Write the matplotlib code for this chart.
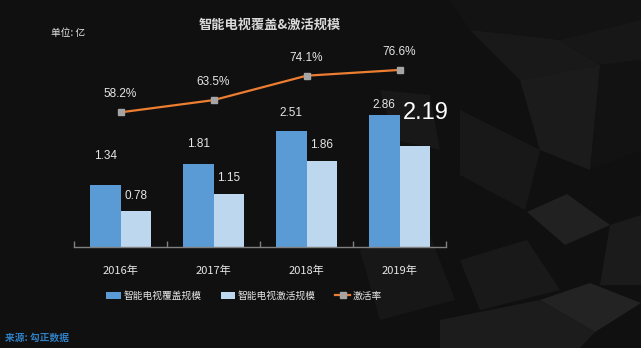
import numpy as np
import matplotlib
matplotlib.use("Agg")
import matplotlib.pyplot as plt
from matplotlib.patches import Polygon, Patch
from matplotlib.lines import Line2D

# --- data ---
years = ["2016年", "2017年", "2018年", "2019年"]
coverage = [1.34, 1.81, 2.51, 2.86]      # 智能电视覆盖规模 (亿)
active = [0.78, 1.15, 1.86, 2.19]        # 智能电视激活规模 (亿)
active_rate = [58.2, 63.5, 74.1, 76.6]   # 激活率 (%)

# --- style ---
BG = "#101010"
C_COVER = "#5b9bd5"
C_ACTIVE = "#bdd7ee"
C_LINE = "#ed7d31"
C_MARK = "#a5a5a5"
TXT = "#e6e6e6"
CJK = ["Noto Sans CJK SC", "DejaVu Sans"]
NUM = ["Liberation Sans Narrow", "Liberation Sans", "DejaVu Sans"]

plt.rcParams["font.family"] = CJK

W, H = 641, 348
fig = plt.figure(figsize=(W / 100, H / 100), dpi=100)
fig.patch.set_facecolor(BG)

# faint cube facets in the background (pixel coords, y from top)
facets = [
    ([(450, 0), (641, 0), (641, 20), (560, 40), (470, 30)], "#131313"),
    ([(470, 30), (560, 40), (600, 65), (520, 80)], "#191919"),
    ([(560, 40), (641, 20), (641, 60), (600, 65)], "#171717"),
    ([(600, 65), (641, 60), (641, 150), (590, 170)], "#121212"),
    ([(520, 80), (600, 65), (590, 170), (540, 150)], "#1b1b1b"),
    ([(460, 110), (540, 150), (525, 210), (460, 175)], "#181818"),
    ([(527, 212), (567, 194), (610, 225), (565, 245)], "#212121"),
    ([(610, 225), (641, 215), (641, 285), (600, 285)], "#1b1b1b"),
    ([(540, 300), (590, 283), (641, 303), (595, 332)], "#232323"),
    ([(460, 260), (527, 240), (560, 290), (480, 310)], "#191919"),
    ([(440, 320), (540, 300), (595, 332), (580, 348), (440, 348)], "#1c1c1c"),
    ([(360, 250), (430, 235), (455, 300), (380, 320)], "#171717"),
    ([(380, 90), (430, 95), (440, 150), (395, 140)], "#181818"),
]
for pts, col in facets:
    fig.patches.append(Polygon([(x, H - y) for x, y in pts], closed=True,
                               transform=None, facecolor=col, edgecolor="none",
                               zorder=-5))

# plot area: 74..446 px wide, baseline at 246.5 px
ax = fig.add_axes([74 / W, (H - 246.5) / H, 372 / W, 230.5 / H])
ax.set_facecolor("none")
ax2 = ax.twinx()

x = np.arange(len(years))
bw = 0.33
ax.bar(x - bw / 2, coverage, bw, color=C_COVER, zorder=2)
ax.bar(x + bw / 2, active, bw, color=C_ACTIVE, zorder=2)
ax.set_xlim(-0.5, len(years) - 0.5)
ax.set_ylim(0, 5.03)

# bar value labels (offsets in pixels above each bar top)
cov_off = [29, 20, 18, 10]
act_off = [15, 16, 16, 33]
for i, v in enumerate(coverage):
    ax.annotate(f"{v:.2f}", (x[i] - bw / 2, v), xytext=(0, cov_off[i]),
                textcoords="offset pixels", ha="center", va="center",
                color=TXT, fontsize=8.5, family=NUM)
for i, v in enumerate(active):
    big = i == len(active) - 1
    ax.annotate(f"{v:.2f}", (x[i] + bw / 2, v),
                xytext=(11 if big else 0, act_off[i]),
                textcoords="offset pixels", ha="center", va="center",
                color="white" if big else TXT,
                fontsize=17 if big else 8.5, family=NUM)

# activation rate line on the secondary axis
ax2.set_ylim(0, 100)
ax2.plot(x, active_rate, color=C_LINE, lw=1.6, marker="s", ms=4,
         mfc=C_MARK, mec=C_MARK, zorder=3)
for i, v in enumerate(active_rate):
    ax2.annotate(f"{v:.1f}%", (x[i], v), xytext=(0, 18),
                 textcoords="offset pixels", ha="center", va="center",
                 color=TXT, fontsize=8.5, family=NUM)

for a in (ax, ax2):
    for s in ("top", "right", "left"):
        a.spines[s].set_visible(False)
    a.set_yticks([])
ax2.spines["bottom"].set_visible(False)
ax.spines["bottom"].set_color("#808080")
ax.spines["bottom"].set_linewidth(1)

ax.set_xticks(x)
ax.set_xticklabels(years, color=TXT, fontsize=8)
ax.tick_params(axis="x", which="major", length=0, pad=14)
ax.set_xticks(np.arange(-0.5, len(years)), minor=True)
ax.tick_params(axis="x", which="minor", direction="in", length=4,
               color="#808080", width=1)

# titles and notes
fig.text(270 / W, 1 - 25 / H, "智能电视覆盖&激活规模", ha="center", va="center",
         color="#d9d9d9", fontsize=9.5, fontweight="bold")
fig.text(51 / W, 1 - 33 / H, "单位: 亿", ha="left", va="center",
         color=TXT, fontsize=7)
fig.text(5 / W, 1 - 338 / H, "来源: 勾正数据", ha="left", va="center",
         color="#2f7fc4", fontsize=7, fontweight="bold")

# legend
handles = [
    Patch(facecolor=C_COVER, edgecolor="none"),
    Patch(facecolor=C_ACTIVE, edgecolor="none"),
    Line2D([], [], color=C_LINE, lw=1.6, marker="s", ms=4,
           mfc=C_MARK, mec=C_MARK),
]
labels = ["智能电视覆盖规模", "智能电视激活规模", "激活率"]
fig.legend(handles, labels, ncol=3, loc="center",
           bbox_to_anchor=(244 / W, 1 - 296 / H), frameon=False,
           fontsize=7, labelcolor=TXT, handlelength=1.5, handleheight=0.8,
           handletextpad=0.25, columnspacing=2.0)

fig.savefig("out.png", dpi=100, facecolor=BG)
